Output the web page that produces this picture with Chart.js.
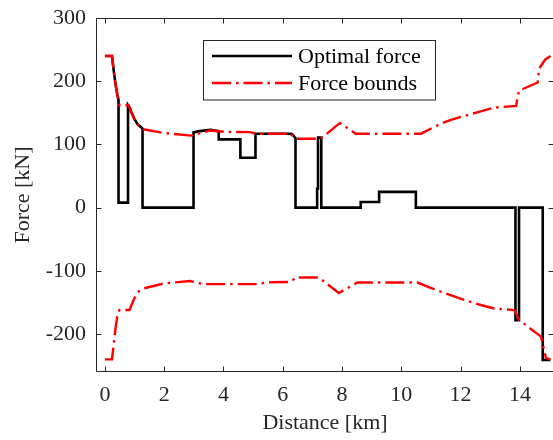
<!DOCTYPE html>
<html><head><meta charset="utf-8">
<script src="https://cdn.jsdelivr.net/npm/chart.js@4"></script>
<style>html,body{margin:0;padding:0;overflow:hidden;background:#fff}canvas{display:block}</style>
</head><body>
<canvas id="c" width="556" height="440"></canvas>
<script>
// ---- data ----
const seriesLabels = ['Optimal force', 'Force bounds'];
const xTicks = [0, 2, 4, 6, 8, 10, 12, 14];
const yTicks = [-200, -100, 0, 100, 200, 300];

const optimalDistance = [0, 0.24, 0.3, 0.36, 0.42, 0.46, 0.46, 0.78, 0.78, 0.85, 0.9, 1.0, 1.1, 1.2, 1.27, 1.27,
  2.99, 2.99, 3.2, 3.56, 3.84, 3.84, 4.57, 4.57, 5.08, 5.08, 6.29, 6.36, 6.43, 6.43,
  7.16, 7.16, 7.19, 7.19, 7.3, 7.3, 8.63, 8.63, 9.25, 9.25, 10.49, 10.49,
  13.85, 13.85, 13.97, 13.97, 14.77, 14.77, 15.03];
const optimalForce = [240, 240, 216, 195, 179, 170, 8, 8, 162, 157, 150, 140, 132, 128, 125, 0,
  0, 119, 121, 123, 121, 108, 108, 79, 79, 117, 117, 114, 110, 0,
  0, 30, 30, 111, 111, 0, 0, 9, 9, 25, 25, 0,
  0, -178, -178, 0, 0, -241, -241];

const upperDistance = [0, 0.24, 0.3, 0.36, 0.42, 0.49, 0.8, 0.9, 1.0, 1.1, 1.2, 1.3, 2.0, 2.9, 3.55, 4.0, 4.9, 5.1,
  6.26, 6.43, 7.28, 7.93, 8.46, 10.66, 11.33, 11.67, 12.5, 13.1, 13.87, 13.97, 14.6, 14.65, 14.85, 15.03];
const upperBound = [240, 240, 215, 195, 178, 162, 162, 150, 140, 132, 127, 124, 118, 114, 122, 120, 119.5, 117,
  117, 109, 109, 134, 117, 117, 133, 139, 150, 158, 161, 185, 198, 220, 234, 240];

const lowerDistance = [0, 0.24, 0.3, 0.36, 0.42, 0.49, 0.83, 0.95, 1.05, 1.15, 1.28, 1.98, 2.88, 3.33, 5.14, 5.5,
  6.26, 6.43, 7.22, 7.89, 8.52, 10.54, 11.33, 12.12, 12.68, 13.13, 13.81, 13.98, 14.71, 14.88, 15.03];
const lowerBound = [-240, -240, -215, -190, -172, -162, -162, -148, -138, -132, -128, -120, -116, -121, -121, -118,
  -117.5, -110.6, -110.6, -135, -118.5, -118.5, -133, -146, -154, -159.6, -162, -178, -204, -238, -240];

const toPts = (xs, ys) => xs.map((x, i) => ({x: x, y: ys[i]}));

const FONT = '"Liberation Serif", "Times New Roman", serif';
const TXT = '#262626';
const AX = '#262626';
const redDash = [19, 5, 2.5, 5];

const framePlugin = {
  id: 'frame',
  beforeDatasetsDraw(chart) {
    const {ctx, chartArea: a, scales: {x, y}} = chart;
    ctx.save();
    ctx.strokeStyle = AX;
    ctx.lineWidth = 1;
    const L = Math.round(a.left) + 0.5, R = Math.round(a.right) - 0.5;
    const T = Math.round(a.top) + 0.5, B = Math.round(a.bottom) - 0.5;
    ctx.beginPath();
    ctx.rect(L, T, R - L, B - T);
    const tl = 5;
    xTicks.forEach(v => {
      const px = Math.round(x.getPixelForValue(v)) + 0.5;
      ctx.moveTo(px, B); ctx.lineTo(px, B - tl);
      ctx.moveTo(px, T); ctx.lineTo(px, T + tl);
    });
    yTicks.forEach(v => {
      const py = Math.round(y.getPixelForValue(v)) + 0.5;
      ctx.moveTo(L, py); ctx.lineTo(L + tl, py);
      ctx.moveTo(R, py); ctx.lineTo(R - tl, py);
    });
    ctx.stroke();
    ctx.restore();
  }
};

const legendPlugin = {
  id: 'boxLegend',
  afterDraw(chart) {
    const {ctx} = chart;
    const ds = chart.data.datasets;
    ctx.save();
    const bx = 203.5, by = 40.5, bw = 232, bh = 59.5;
    ctx.fillStyle = '#fff';
    ctx.fillRect(bx, by, bw, bh);
    ctx.strokeStyle = AX;
    ctx.lineWidth = 1;
    ctx.strokeRect(bx, by, bw, bh);
    const rows = [{ds: ds[1], y: 56, label: seriesLabels[0]}, {ds: ds[0], y: 83, label: seriesLabels[1]}];
    rows.forEach(r => {
      ctx.beginPath();
      ctx.strokeStyle = r.ds.borderColor;
      ctx.lineWidth = r.ds.borderWidth;
      ctx.setLineDash(r.ds.borderDash || []);
      ctx.moveTo(212, r.y); ctx.lineTo(292, r.y);
      ctx.stroke();
      ctx.setLineDash([]);
      ctx.fillStyle = '#000';
      ctx.font = '22px ' + FONT;
      ctx.textBaseline = 'middle';
      ctx.textAlign = 'left';
      ctx.fillText(r.label, 298, r.y + 1);
    });
    ctx.restore();
  }
};

new Chart(document.getElementById('c'), {
  type: 'scatter',
  data: {
    datasets: [
      {label: seriesLabels[1], data: toPts(upperDistance, upperBound), showLine: true, borderColor: '#ff0000',
       borderWidth: 2.4, borderDash: redDash, pointRadius: 0, tension: 0, order: 1},
      {label: seriesLabels[0], data: toPts(optimalDistance, optimalForce), showLine: true, borderColor: '#000000',
       borderWidth: 2.6, pointRadius: 0, tension: 0, order: 3},
      {label: seriesLabels[1] + ' (lower)', data: toPts(lowerDistance, lowerBound), showLine: true, borderColor: '#ff0000',
       borderWidth: 2.4, borderDash: redDash, pointRadius: 0, tension: 0, order: 2}
    ]
  },
  options: {
    responsive: false,
    animation: false,
    devicePixelRatio: 1,
    layout: {padding: {top: 18, right: 2, left: 0, bottom: 0}},
    plugins: {legend: {display: false}, tooltip: {enabled: false}},
    scales: {
      x: {
        type: 'linear', min: -0.3, max: 15.15,
        grid: {display: false}, border: {display: false},
        afterBuildTicks: s => { s.ticks = xTicks.map(v => ({value: v})); },
        afterFit: s => { s.height = 68; s.paddingLeft = 0; s.paddingRight = 0; },
        ticks: {color: TXT, font: {family: FONT, size: 22}, padding: 2, maxRotation: 0, autoSkip: false},
        title: {display: true, text: 'Distance [km]', color: TXT, font: {family: FONT, size: 22}, padding: {top: 0, bottom: 4}}
      },
      y: {
        type: 'linear', min: -260, max: 300,
        grid: {display: false}, border: {display: false},
        afterBuildTicks: s => { s.ticks = yTicks.map(v => ({value: v})); },
        afterFit: s => { s.width = 96; s.paddingTop = 0; s.paddingBottom = 0; },
        ticks: {color: TXT, font: {family: FONT, size: 22}, padding: 2, autoSkip: false},
        title: {display: true, text: 'Force [kN]', color: TXT, font: {family: FONT, size: 22}, padding: {top: 10, bottom: 0}}
      }
    }
  },
  plugins: [framePlugin, legendPlugin]
});
</script>
</body></html>
